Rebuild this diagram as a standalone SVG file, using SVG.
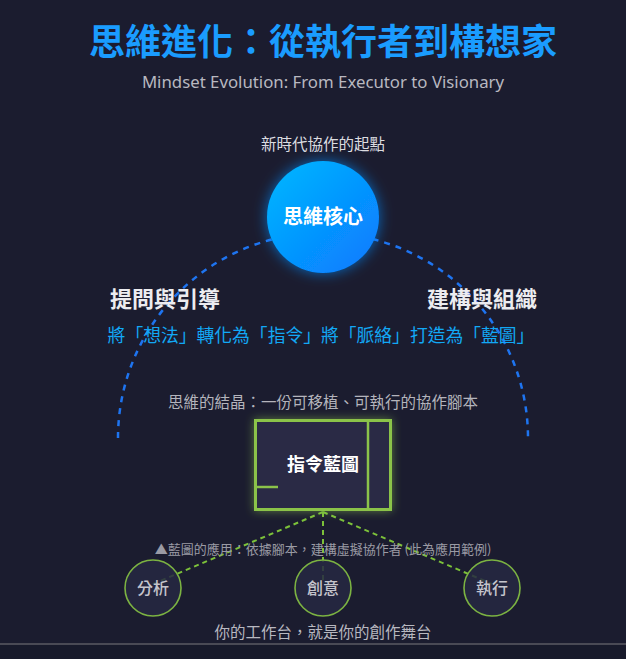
<svg xmlns="http://www.w3.org/2000/svg" width="626" height="659" viewBox="0 0 626 659">
<defs>
<style>
.cjk{font-family:"Noto Sans CJK TC","Noto Sans","Liberation Sans",sans-serif;}
.lat{font-family:"Noto Sans","Open Sans","Liberation Sans",sans-serif;}
.conn{stroke:#7cc13a;stroke-width:2;stroke-dasharray:5 4;fill:none;}
.app circle{fill:#262842;fill-opacity:0.85;stroke:#7cb342;stroke-width:1.6;}
.app text{fill:#c4c4cc;font-size:16px;font-weight:500;text-anchor:middle;}
</style>
<linearGradient id="coreGrad" x1="0" y1="0" x2="1" y2="1">
<stop offset="0" stop-color="#00b8ff"/>
<stop offset="1" stop-color="#0a78ff"/>
</linearGradient>
<filter id="blueGlow" x="-50%" y="-50%" width="200%" height="200%">
<feGaussianBlur in="SourceAlpha" stdDeviation="7" result="b"/>
<feFlood flood-color="#0a8cff" flood-opacity="0.7"/>
<feComposite in2="b" operator="in" result="g"/>
<feMerge><feMergeNode in="g"/><feMergeNode in="SourceGraphic"/></feMerge>
</filter>
<filter id="greenGlow" x="-30%" y="-30%" width="160%" height="160%">
<feGaussianBlur in="SourceAlpha" stdDeviation="5" result="b"/>
<feFlood flood-color="#8bc34a" flood-opacity="0.55"/>
<feComposite in2="b" operator="in" result="g"/>
<feMerge><feMergeNode in="g"/><feMergeNode in="SourceGraphic"/></feMerge>
</filter>
</defs>
<rect width="626" height="659" fill="#1b1c2f"/>
<rect y="644" width="626" height="15" fill="#181a2b"/>
<line x1="0" y1="644" x2="626" y2="644" stroke="#4a4a55" stroke-width="2"/>

<g id="title">
<text class="cjk" x="323" y="55" font-size="36" font-weight="700" fill="#1a9cff" text-anchor="middle">思維進化：從執行者到構想家</text>
<text class="lat" x="323" y="88" font-size="16.8" fill="#b8b8c0" text-anchor="middle">Mindset Evolution: From Executor to Visionary</text>
</g>

<g id="connectors">
<path d="M118,438 A205,205 0 0 1 528,438" fill="none" stroke="#1e74f0" stroke-width="2.5" stroke-dasharray="6 6"/>
<line class="conn" x1="323" y1="512" x2="153" y2="584"/>
<line class="conn" x1="323" y1="512" x2="323" y2="584"/>
<line class="conn" x1="323" y1="512" x2="492" y2="584"/>
</g>

<g id="core">
<text class="cjk" x="323" y="150" font-size="15.5" fill="#dcdce0" text-anchor="middle">新時代協作的起點</text>
<circle cx="323" cy="217" r="56" fill="url(#coreGrad)" filter="url(#blueGlow)"/>
<text class="cjk" x="323" y="224" font-size="20" font-weight="700" fill="#ffffff" text-anchor="middle">思維核心</text>
</g>

<g id="left-label">
<text class="cjk" x="110" y="307" font-size="22" font-weight="700" fill="#ececf0">提問與引導</text>
</g>
<g id="right-label">
<text class="cjk" x="537" y="307" font-size="22" font-weight="700" fill="#ececf0" text-anchor="end">建構與組織</text>
</g>
<g id="transform">
<text class="cjk" x="321" y="342" font-size="17.8" fill="#12a8f5" text-anchor="middle">將「想法」轉化為「指令」將「脈絡」打造為「藍圖」</text>
</g>

<g id="blueprint">
<text class="cjk" x="323" y="408" font-size="15.5" fill="#b4b4bc" text-anchor="middle">思維的結晶：一份可移植、可執行的協作腳本</text>
<rect x="255.5" y="420.5" width="135" height="89" fill="#2a2a45" stroke="#8bc34a" stroke-width="3" filter="url(#greenGlow)"/>
<line x1="368" y1="420" x2="368" y2="510" stroke="#8bc34a" stroke-width="2.5"/>
<line x1="255" y1="487" x2="278" y2="487" stroke="#8bc34a" stroke-width="2.5"/>
<text class="cjk" x="323" y="471" font-size="18" font-weight="700" fill="#ffffff" text-anchor="middle">指令藍圖</text>
</g>

<g id="app-caption">
<text class="cjk" x="323" y="554" font-size="13" fill="#9a9aa4" text-anchor="middle">▲藍圖的應用：依據腳本，建構虛擬協作者 (此為應用範例)</text>
</g>

<g id="node-analysis" class="app">
<circle cx="153" cy="588" r="28"/>
<text class="cjk" x="153" y="594">分析</text>
</g>
<g id="node-creative" class="app">
<circle cx="323" cy="588" r="28"/>
<text class="cjk" x="323" y="594">創意</text>
</g>
<g id="node-execute" class="app">
<circle cx="492" cy="588" r="28"/>
<text class="cjk" x="492" y="594">執行</text>
</g>

<g id="footer">
<text class="cjk" x="323" y="638" font-size="15.5" fill="#b8b8c0" text-anchor="middle">你的工作台，就是你的創作舞台</text>
</g>
</svg>
